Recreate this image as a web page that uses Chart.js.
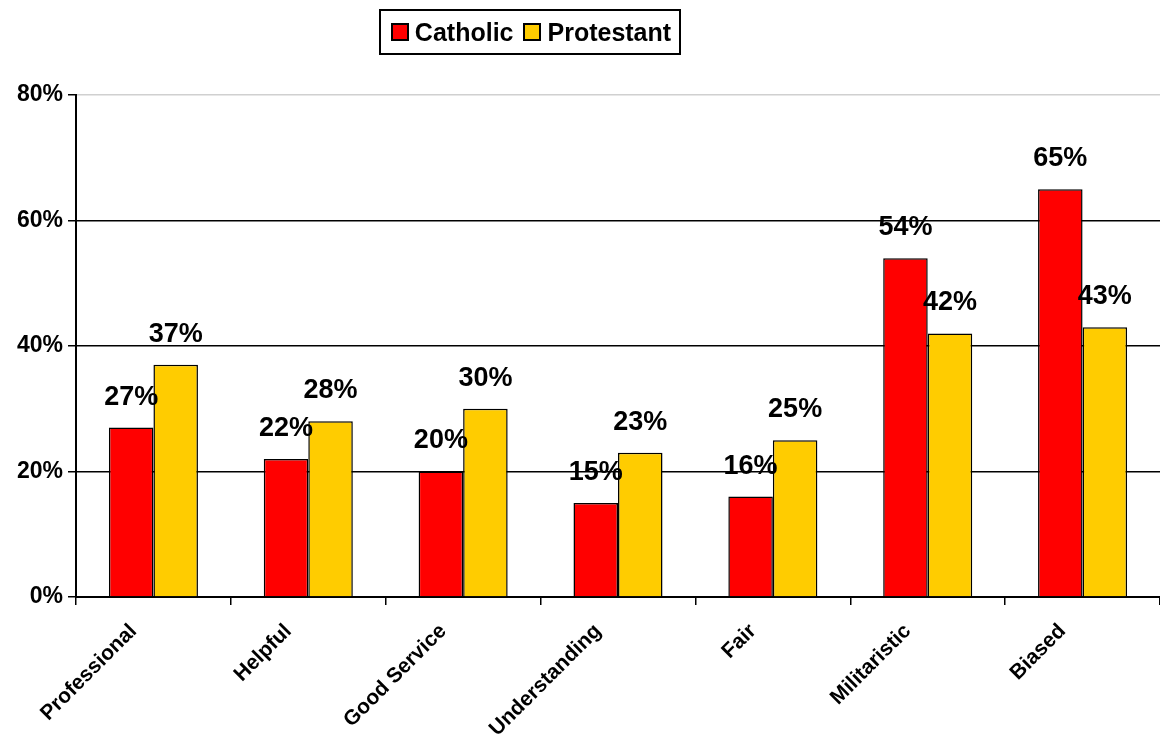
<!DOCTYPE html>
<html>
<head>
<meta charset="utf-8">
<script src="https://cdn.jsdelivr.net/npm/chart.js@4"></script>
<style>
body{margin:0;background:#fff;font-family:"Liberation Sans",Arial,sans-serif}
#wrap{position:relative;width:1160px;height:742px}
#legend{position:absolute;left:379px;top:9px;width:302px;height:46px;border:2px solid #000;box-sizing:border-box;display:flex;align-items:center;justify-content:center;font-weight:bold;font-size:25px;color:#000}
#legend span.box{display:inline-block;width:14px;height:14px;border:2px solid #000;margin:0 6px 0 2px}
#legend span.txt{margin-right:8px}
</style>
</head>
<body>
<div id="wrap">
<canvas id="grafico" width="1160" height="742"></canvas>
<div id="legend">
<span class="box" style="background:#ff0000"></span><span class="txt">Catholic</span>
<span class="box" style="background:#ffcc00"></span><span class="txt" style="margin-right:0">Protestant</span>
</div>
</div>
<script>
const categorias = ["Professional","Helpful","Good Service","Understanding","Fair","Militaristic","Biased"]
const catolicos = [27,22,20,15,16,54,65]
const protestantes = [37,28,30,23,25,42,43]
const ticksY = [0,20,40,60,80]

// ---------------- ROTULOS ----------------
const rotulos = {
id:"rotulos",
afterDatasetsDraw(chart){
const ctx = chart.ctx
ctx.save()
ctx.font = "bold 27px 'Liberation Sans', Arial, sans-serif"
ctx.fillStyle = "#000"
ctx.textAlign = "center"
ctx.textBaseline = "bottom"
chart.data.datasets.forEach((ds,i) => {
chart.getDatasetMeta(i).data.forEach((bar,j) => {
ctx.fillText(ds.data[j] + "%", bar.x, bar.y - 17)
})
})
ctx.restore()
}
}

new Chart(document.getElementById("grafico"),{
type:"bar",
data:{
labels:categorias,
datasets:[{
label:"Catholic",
data:catolicos,
backgroundColor:"#ff0000",
borderColor:"#000",
borderWidth:1.5,
categoryPercentage:0.575,
barPercentage:1
},{
label:"Protestant",
data:protestantes,
backgroundColor:"#ffcc00",
borderColor:"#000",
borderWidth:1.5,
categoryPercentage:0.575,
barPercentage:1
}]
},
options:{
responsive:false,
animation:false,
layout:{padding:{top:95,right:0,left:0,bottom:0}},
plugins:{legend:{display:false},tooltip:{enabled:false}},
scales:{
x:{
offset:true,
grid:{offset:true,drawOnChartArea:false,drawTicks:true,tickLength:8,color:"#000",lineWidth:1.5},
border:{color:"#000",width:2},
ticks:{maxRotation:45,minRotation:45,labelOffset:-20,padding:14,color:"#000",font:{family:"'Liberation Sans', Arial",size:21,weight:"bold"}},
afterFit(s){s.height = 145}
},
y:{
min:0,max:80,
afterBuildTicks(s){s.ticks = ticksY.map(v => ({value:v}))},
grid:{color:c => c.tick && c.tick.value === 80 ? "#d0d0d0" : "#000",lineWidth:1.5,tickLength:8,tickColor:"#000"},
border:{color:"#000",width:2},
ticks:{color:"#000",padding:5,font:{family:"'Liberation Sans', Arial",size:23,weight:"bold"},callback:v => v + "%"},
afterFit(s){s.width = 76}
}
}
},
plugins:[rotulos]
})
</script>
</body>
</html>
